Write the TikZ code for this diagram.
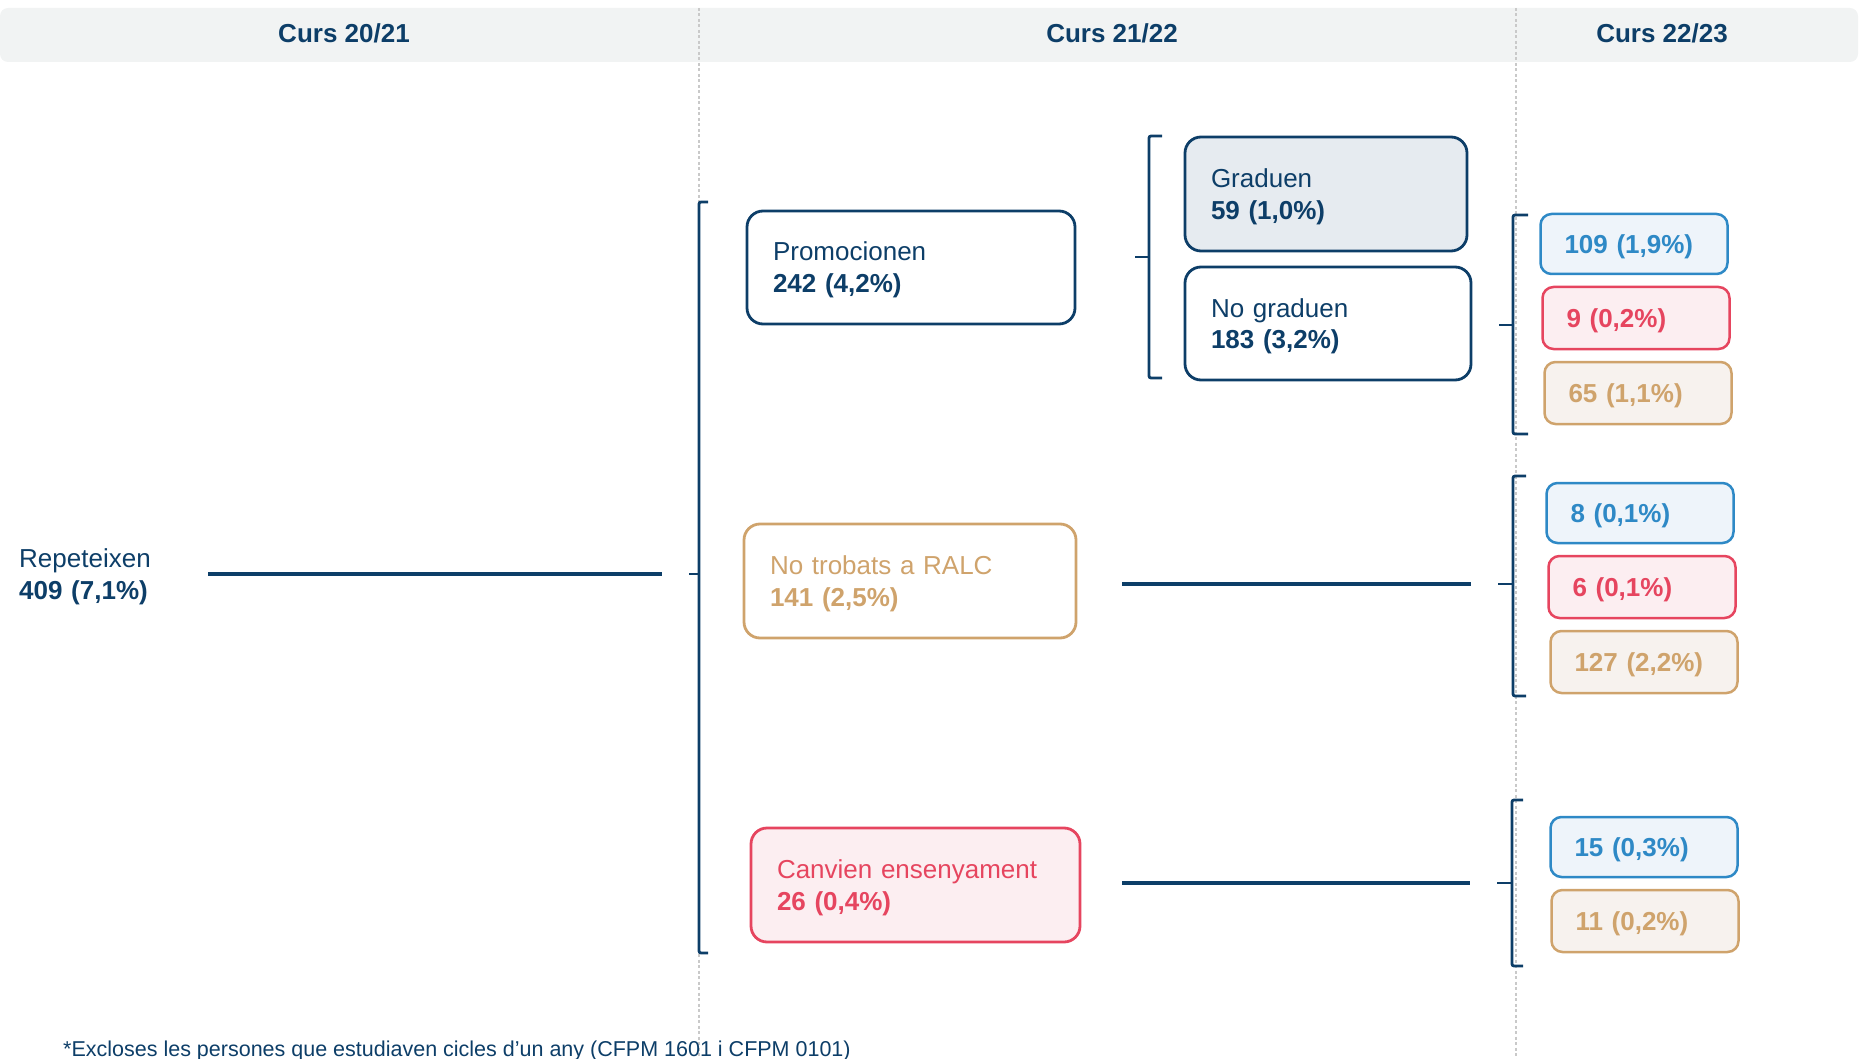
\documentclass[tikz,border=0pt]{standalone}
\usepackage{fontspec}
\setmainfont{Liberation Sans}
\usepackage{xcolor}
\usetikzlibrary{positioning}
\definecolor{navy}{HTML}{0D3E68}
\definecolor{navyfill}{HTML}{E6EBF0}
\definecolor{skyb}{HTML}{2E89C6}
\definecolor{skybfill}{HTML}{EEF4FA}
\definecolor{rose}{HTML}{E6455F}
\definecolor{rosefill}{HTML}{FCEEF1}
\definecolor{sand}{HTML}{CFA36C}
\definecolor{sandfill}{HTML}{F7F2EE}
\definecolor{hdrgrey}{HTML}{F1F3F3}
\definecolor{gridgrey}{HTML}{C9C9C9}
\tikzset{
    head-label/.style = {text=navy, font=\fontsize{26}{32}\selectfont\bfseries, anchor=base},
    plain-label/.style = {text=navy, font=\fontsize{26}{32}\selectfont, align=left, inner sep=0pt, text height=19pt, text depth=32pt},
    cat-box/.style = {draw=#1, text=#1, rectangle, rounded corners=16pt, line width=2.8pt, align=left, inner xsep=26pt, inner ysep=0pt, text height=19pt, text depth=32pt, font=\fontsize{26}{32}\selectfont},
    val-box/.style = {draw=#1, text=#1, fill=#1fill, rectangle, rounded corners=11pt, line width=2.5pt, align=left, inner xsep=24pt, text width=139pt, minimum height=62pt, text height=19pt, text depth=0pt, font=\fontsize{26}{32}\selectfont\bfseries},
    bracket/.style = {draw=navy, line width=2.8pt, rounded corners=2pt},
    link/.style = {draw=navy, line width=3.2pt},
    grid-line/.style = {draw=gridgrey, line width=1.5pt, dash pattern=on 3pt off 2.5pt},
}

\begin{document}
\begin{tikzpicture}[x=1pt, y=-1pt]
\useasboundingbox (0,0) rectangle (1863,1059);
% header band and column separators
\fill[hdrgrey, rounded corners=8pt] (0,8) rectangle (1858,62);
\draw[grid-line] (699,8) -- (699,1059);
\draw[grid-line] (1516,8) -- (1516,1059);
\node[head-label] (h2021) at (344,43) {Curs 20/21};
\node[head-label] (h2122) at (1112,43) {Curs 21/22};
\node[head-label] (h2223) at (1662,43) {Curs 22/23};

% Curs 20/21
\node[plain-label, text width=135pt, anchor=west] (rep) at (19,574) {Repeteixen\\\textbf{409 (7,1\%)}};

% Curs 21/22
\node[cat-box=navy, text width=276pt, minimum height=113pt] (prom) at (911,267.5) {Promocionen\\\textbf{242 (4,2\%)}};
\node[cat-box=sand, text width=280pt, minimum height=114pt] (notrob) at (910,581) {No trobats a RALC\\\textbf{141 (2,5\%)}};
\node[cat-box=rose, fill=rosefill, text width=277pt, minimum height=114pt] (canv) at (915.5,885) {Canvien ensenyament\\\textbf{26 (0,4\%)}};
\node[cat-box=navy, fill=navyfill, text width=230pt, minimum height=114pt] (grad) at (1326,194) {Graduen\\\textbf{59 (1,0\%)}};
\node[cat-box=navy, text width=234pt, minimum height=113pt] (nograd) at (1328,323.5) {No graduen\\\textbf{183 (3,2\%)}};

% Curs 22/23
\node[val-box=skyb, minimum height=60pt] (v109) at (1634,244) {109 (1,9\%)};
\node[val-box=rose, below=10.5pt of v109, xshift=2pt] (v9) {9 (0,2\%)};
\node[val-box=sand, below=10.5pt of v9, xshift=2pt] (v65) {65 (1,1\%)};
\node[val-box=skyb, minimum height=60pt] (v8) at (1640,513) {8 (0,1\%)};
\node[val-box=rose, below=10.5pt of v8, xshift=2pt] (v6) {6 (0,1\%)};
\node[val-box=sand, below=10.5pt of v6, xshift=2pt] (v127) {127 (2,2\%)};
\node[val-box=skyb, minimum height=60pt] (v15) at (1644,847) {15 (0,3\%)};
\node[val-box=sand, below=10.5pt of v15, xshift=1pt] (v11) {11 (0,2\%)};

% brackets
\coordinate (tipA) at (689,574);
\coordinate (tipB) at (1135,257);
\coordinate (tipC) at (1499,325);
\coordinate (tipD) at (1498,584);
\coordinate (tipE) at (1497,883);
\draw[bracket] (708,202) -- (699,202) -- (699,953) -- (708,953);
\draw[bracket] (699,574) -- (tipA);
\draw[bracket] (1162,136) -- (1149,136) -- (1149,378) -- (1162,378);
\draw[bracket] (1149,257) -- (tipB);
\draw[bracket] (1528,215) -- (1513,215) -- (1513,434) -- (1528,434);
\draw[bracket] (1513,325) -- (tipC);
\draw[bracket] (1526,476) -- (1513,476) -- (1513,696) -- (1526,696);
\draw[bracket] (1513,584) -- (tipD);
\draw[bracket] (1523,800) -- (1512,800) -- (1512,966) -- (1523,966);
\draw[bracket] (1512,883) -- (tipE);

% links
\draw[link] ([xshift=54pt]rep.east) -- ([xshift=-27pt]tipA);
\draw[link] ([xshift=45pt]notrob.east |- tipD) -- ([xshift=-27pt]tipD);
\draw[link] ([xshift=41pt]canv.east |- tipE) -- ([xshift=-27pt]tipE);

\node[anchor=base west, text=navy, font=\fontsize{21.5}{26}\selectfont, inner sep=0pt] (note) at (63,1056) {*Excloses les persones que estudiaven cicles d’un any (CFPM 1601 i CFPM 0101)};
\end{tikzpicture}
\end{document}
